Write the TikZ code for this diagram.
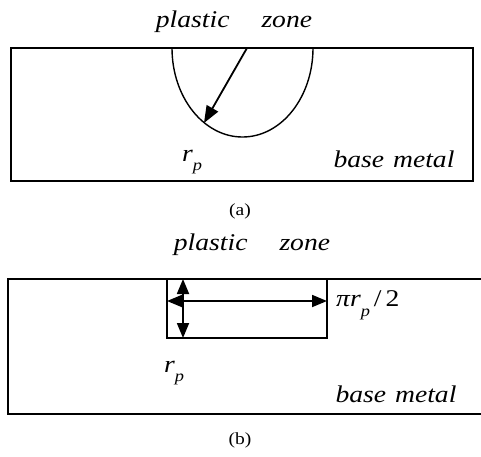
\documentclass[tikz,border=0pt]{standalone}
\usepackage{fontspec}
\usetikzlibrary{arrows.meta,positioning}
\newfontfamily\figfont[FakeStretch=1.15]{Liberation Serif}
\newcommand{\sub}[1]{\raisebox{-0.4em}{\fontsize{16}{16}\selectfont #1}}
\tikzset{
  lbl/.style={font=\figfont\itshape\fontsize{24}{26}\selectfont, inner sep=0pt},
  figcap/.style={font=\figfont\fontsize{17}{19}\selectfont, inner sep=0pt},
  plate/.style={line width=1.6pt},
  arr/.style={-{Triangle[length=17pt,width=13pt]}, line width=1.8pt},
  darr/.style={{Triangle[length=15pt,width=12pt]}-{Triangle[length=15pt,width=12pt]}, line width=1.8pt},
}
\begin{document}
\begin{tikzpicture}[x=1pt,y=-1pt]
        \useasboundingbox (0,0) rectangle (481,456);
        % (a) semicircular zone
        \draw[plate] (11,48) rectangle (473,181);
        \draw[line width=1.4pt] (172,48) arc[start angle=180, end angle=0, x radius=70.5, y radius=89];
        \coordinate (ca) at (247,48);
        \coordinate (ea) at (204,123);
        \draw[arr] (ca) -- (ea);
        \node[lbl] (pza) at (234,22) {plastic\hspace{32pt}zone};
        \node[lbl] (rpa) at (192,162) {r\sub{p}};
        \node[lbl] (bma) at (394,159) {base\hspace{9pt}metal};
        \node[figcap] (capa) at (240,211) {(a)};
        % (b) rectangular zone
        \draw[plate] (481,279) -- (8,279) -- (8,414) -- (481,414);
        \node[plate, draw, minimum width=160pt, minimum height=59pt, inner sep=0pt] (zb) at (247,308.5) {};
        \coordinate (vt) at (183,279);
        \coordinate (vb) at (183,338);
        \draw[darr] (vt) -- (vb);
        \coordinate (hl) at (167,301);
        \coordinate (hr) at (327,301);
        \draw[darr] (hl) -- (hr);
        \node[lbl, right=9pt of hr, yshift=-4pt] (wb) {πr\sub{p}\,\upshape/\,2};
        \node[lbl] (pzb) at (252,245) {plastic\hspace{32pt}zone};
        \node[lbl] (rpb) at (174,373) {r\sub{p}};
        \node[lbl] (bmb) at (396,394) {base\hspace{9pt}metal};
        \node[figcap] (capb) at (240,440) {(b)};
\end{tikzpicture}
\end{document}
